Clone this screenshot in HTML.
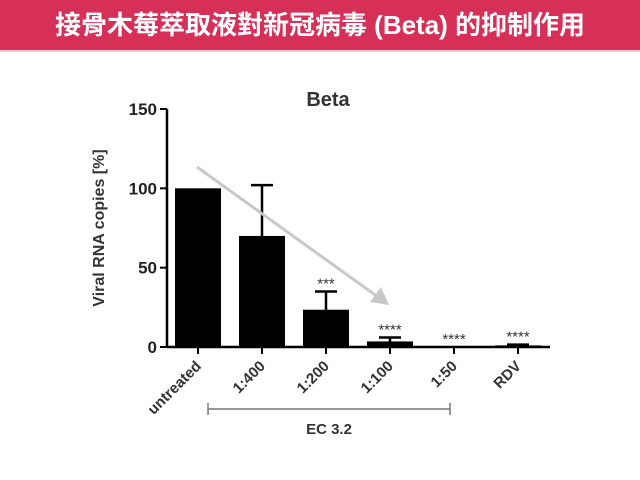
<!DOCTYPE html>
<html><head><meta charset="utf-8">
<style>
body{margin:0;width:640px;height:480px;background:#fff;overflow:hidden;font-family:"Liberation Sans","Noto Sans CJK TC",sans-serif;}
#hdr{position:absolute;left:0;top:0;width:640px;height:50px;background:#d62f58;color:#fff;font-size:26px;font-weight:bold;text-align:center;line-height:50px;font-family:"Liberation Sans","Noto Sans CJK TC",sans-serif;}
#hdr2{position:absolute;left:0;top:50px;width:640px;height:2px;background:#f4c7d2;}
svg{position:absolute;left:0;top:0}
</style></head><body>
<div id="hdr">接骨木莓萃取液對新冠病毒 (Beta) 的抑制作用</div>
<div id="hdr2"></div>
<svg id="chart" width="640" height="480"></svg>
<script>
const categories=["untreated","1:400","1:200","1:100","1:50","RDV"];
const values=[100,70,23.5,3.5,0,1];
const errors=[0,32,11.5,2.5,0,0.5];
const stars=["","","***","****","****","****"];
const yTicks=[0,50,100,150];
const NS="http://www.w3.org/2000/svg";
const svg=document.getElementById('chart');
const x0=167,xEnd=550,y0=347,yTop=109,yMax=150;
const y=v=>y0-(v/yMax)*(y0-yTop);
const xc=i=>198+i*64;
const bw=46;
function mk(t,a,p){const e=document.createElementNS(NS,t);for(const k in a)e.setAttribute(k,a[k]);(p||svg).appendChild(e);return e;}
let t=mk('text',{x:328,y:106,'text-anchor':'middle','font-size':20,'font-weight':'bold',fill:'#333','font-family':'Liberation Sans'});t.textContent='Beta';


values.forEach((v,i)=>{
  const r=mk('rect',{x:xc(i)-bw/2,y:y(v),width:bw,height:y0-y(v),fill:'#000'});
  
  
  if(errors[i]>0){
    const g=mk('g',{stroke:'#000','stroke-width':2.5});
    
    
    mk('line',{x1:xc(i),x2:xc(i),y1:y(v),y2:y(v+errors[i])},g);
    mk('line',{x1:xc(i)-11,x2:xc(i)+11,y1:y(v+errors[i]),y2:y(v+errors[i])},g);
  }
  if(stars[i]){
    const s=mk('text',{x:xc(i),y:y(v+errors[i])-4+8,'text-anchor':'middle','font-size':15,fill:'#333','font-family':'Liberation Sans'});
    s.setAttribute('y',y(v+errors[i])-3);
    s.textContent=stars[i];
    
    
  }
  mk('line',{x1:xc(i),x2:xc(i),y1:y0,y2:y0+7,stroke:'#000','stroke-width':2});
  const l=mk('text',{x:xc(i)+4,y:y0+20,'text-anchor':'end','font-size':15,'font-weight':'bold',fill:'#333','font-family':'Liberation Sans',transform:`rotate(-45 ${xc(i)+4} ${y0+20})`});
  l.textContent=categories[i];
  
  
});
const ax=mk('g',{stroke:'#000','stroke-width':2.5});


mk('line',{x1:x0,x2:x0,y1:yTop,y2:y0+1},ax);
mk('line',{x1:x0,x2:xEnd,y1:y0,y2:y0},ax);
yTicks.forEach(v=>{
  mk('line',{x1:x0-7,x2:x0,y1:y(v),y2:y(v),stroke:'#000','stroke-width':2});
  const tl=mk('text',{x:x0-10,y:y(v)+6,'text-anchor':'end','font-size':17,'font-weight':'bold',fill:'#222','font-family':'Liberation Sans'});
  tl.textContent=v;
  
  
});
const yt=mk('text',{x:104,y:228,'text-anchor':'middle','font-size':16,'font-weight':'bold',fill:'#333','font-family':'Liberation Sans',transform:'rotate(-90 104 228)'});
yt.textContent='Viral RNA copies [%]';


const ar=mk('g',{stroke:'#c8c8c8','stroke-width':3,fill:'#c8c8c8'});


mk('line',{x1:197,y1:167,x2:378,y2:297},ar);
mk('polygon',{points:'389,305 370,302 381,287',stroke:'none'},ar);
const br=mk('g',{stroke:'#777','stroke-width':1.5});


mk('line',{x1:208,x2:450,y1:409,y2:409},br);
mk('line',{x1:208,x2:208,y1:403,y2:415},br);
mk('line',{x1:450,x2:450,y1:403,y2:415},br);
const ec=mk('text',{x:329,y:434,'text-anchor':'middle','font-size':15,'font-weight':'bold',fill:'#333','font-family':'Liberation Sans'});
ec.textContent='EC 3.2';


</script>
</body></html>
